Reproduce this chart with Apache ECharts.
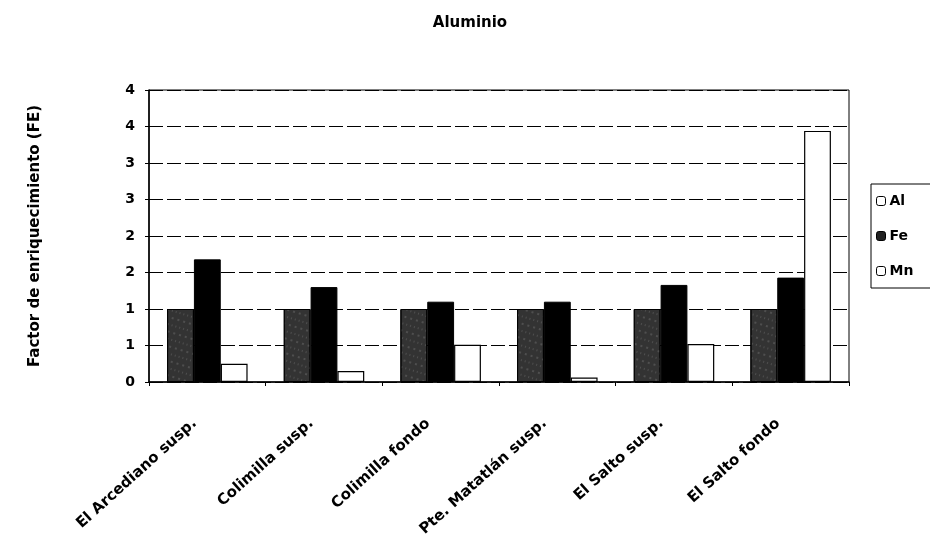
<!DOCTYPE html>
<html>
<head>
<meta charset="utf-8">
<script src="https://cdn.jsdelivr.net/npm/echarts@6/dist/echarts.min.js"></script>
<style>
html,body{margin:0;padding:0;background:#fff;}
#chart{width:930px;height:548px;}
</style>
</head>
<body>
<div id="chart"></div>
<script>
const categories = ['El Arcediano susp.', 'Colimilla susp.', 'Colimilla fondo', 'Pte. Matatlán susp.', 'El Salto susp.', 'El Salto fondo'];
const alValues = [1.0, 1.0, 1.0, 1.0, 1.0, 1.0];
const feValues = [1.68, 1.30, 1.10, 1.10, 1.33, 1.43];
const mnValues = [0.25, 0.15, 0.51, 0.06, 0.52, 3.44];
const yTickLabels = ['0', '1', '1', '2', '2', '3', '3', '4', '4'];
const seriesNames = ['Al', 'Fe', 'Mn'];

const font = 'DejaVu Sans, Liberation Sans, Arial, sans-serif';
const chart = echarts.init(document.getElementById('chart'), null, {renderer: 'canvas'});

const alDecal = {
  symbol: 'rect',
  symbolSize: 0.6,
  color: 'rgba(255,255,255,0.45)',
  dashArrayX: [[1, 3], [2, 4]],
  dashArrayY: [2, 5],
  rotation: 0.3
};

chart.setOption({
  animation: false,
  backgroundColor: '#fff',
  title: {
    text: 'Aluminio',
    left: 465,
    top: 11,
    textAlign: 'center',
    textStyle: {fontFamily: font, fontWeight: 'bold', fontSize: 15, color: '#000'}
  },
  legend: {
    orient: 'vertical',
    left: 871,
    top: 184,
    itemWidth: 9,
    itemHeight: 9,
    itemGap: 21,
    padding: [10, 20, 10, 5],
    borderColor: '#000',
    borderWidth: 1,
    textStyle: {fontFamily: font, fontWeight: 'bold', fontSize: 14, color: '#000', padding: [0, 0, 0, -1]},
    data: [
      {name: 'Al', itemStyle: {color: '#fff', borderColor: '#000', borderWidth: 1, decal: 'none'}},
      {name: 'Fe', itemStyle: {color: '#222', borderColor: '#000', borderWidth: 1}},
      {name: 'Mn', itemStyle: {color: '#fff', borderColor: '#000', borderWidth: 1}}
    ]
  },
  grid: {
    left: 149,
    right: 81,
    top: 90,
    bottom: 166,
    show: true,
    borderColor: '#000',
    borderWidth: 1
  },
  xAxis: {
    type: 'category',
    data: categories,
    axisLine: {lineStyle: {color: '#000', width: 1.5}},
    axisTick: {show: true, length: 4, lineStyle: {color: '#000'}},
    axisLabel: {
      rotate: 42,
      interval: 0,
      margin: 28,
      padding: [0, 17, 0, 0],
      fontFamily: font,
      fontWeight: 'bold',
      fontSize: 15,
      color: '#000'
    }
  },
  yAxis: {
    type: 'value',
    min: 0,
    max: 4,
    interval: 0.5,
    name: 'Factor de enriquecimiento (FE)',
    nameLocation: 'middle',
    nameGap: 106,
    nameTextStyle: {fontFamily: font, fontWeight: 'bold', fontSize: 15, color: '#000'},
    axisLine: {show: true, lineStyle: {color: '#000', width: 1.5}},
    axisTick: {show: true, length: 4, lineStyle: {color: '#000'}},
    axisLabel: {
      margin: 14,
      fontFamily: font,
      fontWeight: 'bold',
      fontSize: 14,
      color: '#000',
      formatter: function (v, i) { return yTickLabels[i]; }
    },
    splitLine: {show: true, lineStyle: {color: '#000', width: 1, type: [14, 4]}}
  },
  series: [
    {
      name: seriesNames[0], type: 'bar', data: alValues,
      barGap: '0%', barCategoryGap: '31%',
      itemStyle: {color: '#333', borderColor: '#000', borderWidth: 1, decal: alDecal}
    },
    {
      name: seriesNames[1], type: 'bar', data: feValues,
      barGap: '0%', barCategoryGap: '31%',
      itemStyle: {color: '#000', borderColor: '#000', borderWidth: 1}
    },
    {
      name: seriesNames[2], type: 'bar', data: mnValues,
      barGap: '0%', barCategoryGap: '31%',
      itemStyle: {color: '#fff', borderColor: '#000', borderWidth: 1.2}
    }
  ]
});
</script>
</body>
</html>
